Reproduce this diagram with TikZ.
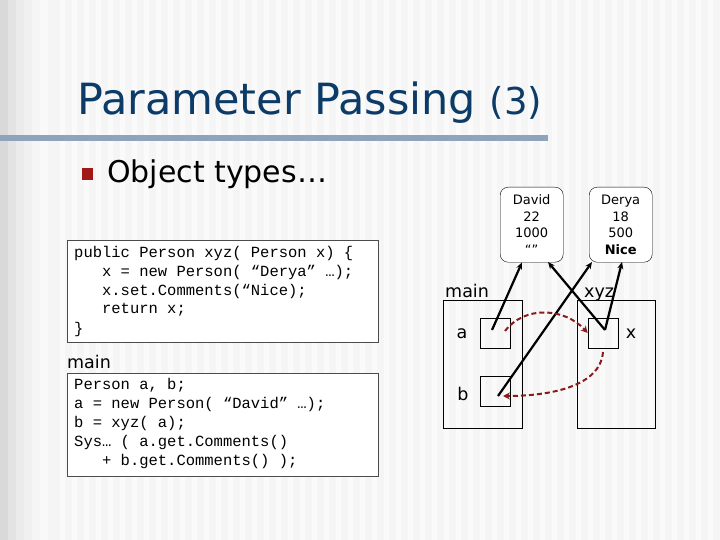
\documentclass[tikz,border=0pt]{standalone}
\usepackage{fontspec}
\setmainfont{DejaVu Sans}
\newfontfamily\codefont{Liberation Mono}
\usetikzlibrary{arrows.meta}
\definecolor{titleblue}{HTML}{0B3B66}
\definecolor{barblue}{HTML}{8FA3BA}
\definecolor{bulletred}{HTML}{A01818}
\definecolor{dashred}{HTML}{8B1A1A}
\tikzset{
  codebox/.style={draw=black!70,fill=white,line width=0.6pt},
  codeline/.style={anchor=west,font=\codefont\fontsize{15.5}{17}\selectfont,inner sep=0pt},
  obj/.style={draw,fill=white,rounded corners=8pt,minimum width=63pt,minimum height=75pt,align=center,font=\fontsize{13}{16.5}\selectfont,inner sep=1pt},
  frame/.style={draw,line width=0.6pt},
  cell/.style={draw,minimum width=30pt,minimum height=30pt,inner sep=0pt,line width=0.6pt},
  lbl/.style={font=\fontsize{17.5}{20}\selectfont,inner sep=0pt},
  ref/.style={line width=2.2pt,-{Stealth[length=7pt,width=6pt]}},
  pass/.style={dashred,line width=2pt,dashed,dash pattern=on 5pt off 3pt,-{Stealth[length=7pt,width=7pt]}}
}
\begin{document}
\begin{tikzpicture}[x=1pt,y=-1pt]
\useasboundingbox (0,0) rectangle (720,540);
\fill[gray!8] (0,0) rectangle (720,540);
\foreach \i/\s in {0/30,8/22,16/16,24/12,32/8,40/5}{\fill[gray!\s] (\i,0) rectangle ++(8,540);}
\foreach \x in {60,72,...,720}{\fill[white,opacity=0.5] (\x,0) rectangle ++(5,540);}
\node[anchor=base west,text=titleblue,font=\fontsize{43}{48}\selectfont,inner sep=0pt] (title) at (77,115) {Parameter Passing {\fontsize{37}{42}\selectfont(3)}};
\fill[barblue] (0,135) rectangle (548,141);
\fill[bulletred] (82,168) rectangle (93,180);
\node[anchor=west,font=\fontsize{30}{34}\selectfont,inner sep=0pt] (obj) at (107,174) {Object types…};
% code box 1
\node[codebox,minimum width=311pt,minimum height=102pt,anchor=north west,inner sep=0pt] (c1) at (67,240) {};
\node[codeline] (l1) at (74,253) {public Person xyz( Person x) \{};
\node[codeline] (l2) at (74,272) {\ \ \ x = new Person( “Derya” …);};
\node[codeline] (l3) at (74,291) {\ \ \ x.set.Comments(“Nice);};
\node[codeline] (l4) at (74,310) {\ \ \ return x;};
\node[codeline] (l5) at (74,329) {\}};
\node[anchor=west,font=\fontsize{17.5}{20}\selectfont,inner sep=0pt] (mainlbl) at (67,362) {main};
\node[codebox,minimum width=311pt,minimum height=103pt,anchor=north west,inner sep=0pt] (c2) at (67,373) {};
\node[codeline] (m1) at (74,385) {Person a, b;};
\node[codeline] (m2) at (74,404) {a = new Person( “David” …);};
\node[codeline] (m3) at (74,423) {b = xyz( a);};
\node[codeline] (m4) at (74,442) {Sys… ( a.get.Comments()};
\node[codeline] (m5) at (74,461) {\ \ \ + b.get.Comments() );};
% objects
\node[obj,anchor=north west] (david) at (500,187) {David\\22\\1000\\“”};
\node[obj,anchor=north west] (derya) at (589,187) {Derya\\18\\500\\\textbf{Nice}};
% frames
\node[frame,minimum width=79pt,minimum height=128pt,anchor=north west,inner sep=0pt] (mainf) at (443,300) {};
\node[frame,minimum width=78pt,minimum height=128pt,anchor=north west,inner sep=0pt] (xyzf) at (577,300) {};
\node[lbl,anchor=base west] (mainl) at (445,297) {main};
\node[lbl,anchor=base west] (xyzl) at (584,297) {xyz};
\node[cell] (a) at (495,333) {};
\node[cell] (b) at (495,391) {};
\node[cell] (x) at (603,333) {};
\node[lbl] (al) at (462,334) {a};
\node[lbl] (bl) at (463,394) {b};
\node[lbl] (xl) at (631,334) {x};
\coordinate (ap) at (492,330);
\coordinate (bp) at (498,396);
\coordinate (xp) at (605,330);
\draw[ref] (ap) -- (david.south -| 522,0);
\draw[ref] (bp) -- (592,262);
\draw[ref] (xp) -- (548,262);
\draw[ref] (xp) -- (622,262);
\draw[pass] (505,331) .. controls (525,305) and (565,308) .. (x.west);
\draw[pass] (603,352) .. controls (600,390) and (540,396) .. (503,396);
\end{tikzpicture}
\end{document}
